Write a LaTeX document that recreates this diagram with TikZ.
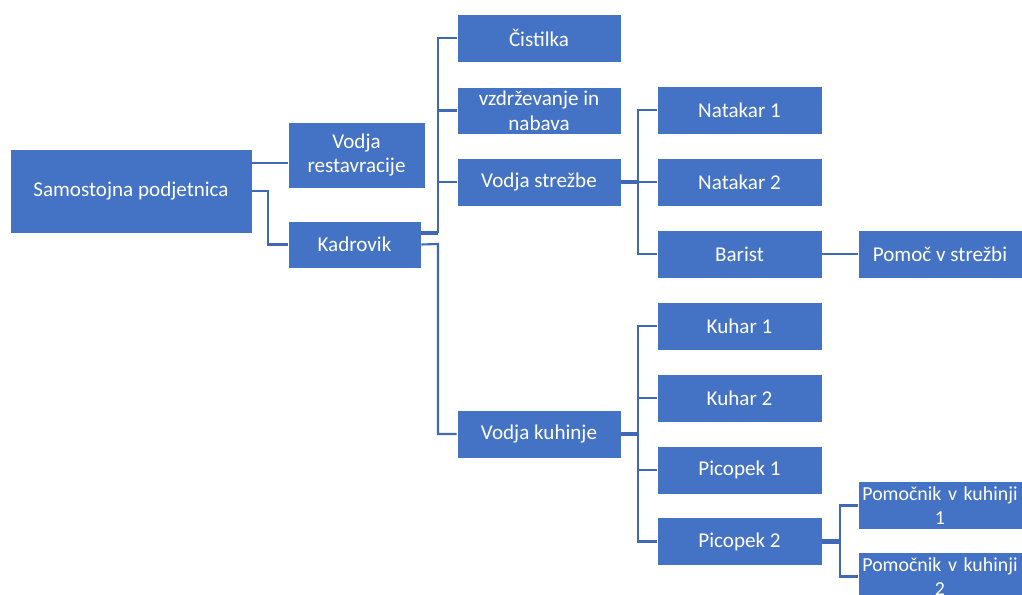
\documentclass[tikz,border=0pt]{standalone}
\usepackage{fontspec}
\setmainfont{Carlito}
\usepackage{tikz}
\definecolor{boxblue}{HTML}{4472C4}
\definecolor{linkblue}{HTML}{3F68B6}

\begin{document}
\begin{tikzpicture}[thin,
    unit/.style={rectangle, fill=boxblue, draw=white, line width=0.5pt, text=white,
        font=\fontsize{12}{14}\selectfont, align=center, inner sep=1.5pt,
        minimum width=3.28cm, minimum height=0.96cm},
    link/.style={draw=linkblue, line width=1.2pt},
    stub/.style={draw=linkblue, line width=2.6pt}]
    \useasboundingbox (0, 0) rectangle (20.44, -11.90);
    \node[unit, minimum width=4.84cm, minimum height=1.68cm] (00) at (2.62, -3.82) {Samostojna podjetnica};
    \node[unit, minimum width=2.74cm, minimum height=1.32cm] (10) at (7.13, -3.10) {Vodja\\restavracije};
    \node[unit, minimum width=2.66cm, minimum height=0.94cm] (11) at (7.09, -4.89) {Kadrovik};
    \node[unit] (20) at (10.78, -0.76) {Čistilka};
    \node[unit, minimum height=0.94cm] (21) at (10.78, -2.21) {vzdrževanje in\\nabava};
    \node[unit] (22) at (10.78, -3.64) {Vodja strežbe};
    \node[unit] (23) at (10.78, -8.68) {Vodja kuhinje};
    \node[unit, minimum width=3.30cm] (30) at (14.79, -2.20) {Natakar 1};
    \node[unit, minimum width=3.30cm] (31) at (14.79, -3.64) {Natakar 2};
    \node[unit, minimum width=3.30cm] (32) at (14.79, -5.08) {Barist};
    \node[unit, minimum width=3.30cm] (33) at (14.79, -6.52) {Kuhar 1};
    \node[unit, minimum width=3.30cm] (34) at (14.79, -7.96) {Kuhar 2};
    \node[unit, minimum width=3.30cm] (35) at (14.79, -9.40) {Picopek 1};
    \node[unit, minimum width=3.30cm] (36) at (14.79, -10.83) {Picopek 2};
    \node[unit] (40) at (18.80, -5.08) {Pomoč v strežbi};
    \node[unit, font=\fontsize{11.3}{14}\selectfont, text width=3.17cm, inner ysep=0pt] (41) at (18.80, -10.11) {\mbox{Pomočnik v kuhinji}\\1};
    \node[unit, font=\fontsize{11.3}{14}\selectfont, text width=3.17cm, inner ysep=0pt] (42) at (18.80, -11.53) {\mbox{Pomočnik v kuhinji}\\2};
    % top
    \draw[link] (00.east |- 0, -3.26) -- (10.west |- 0, -3.26);
    \draw[link] (00.east) -- (5.36, -3.82) |- (11.west);
    % Kadrovik
    \draw[stub] (11.east |- 0, -4.66) -- (8.76, -4.66);
    \foreach \n in {20, 21, 22}
        \draw[link] (8.76, -4.66) |- (\n.west);
    \draw[link] (11.east) -- (8.76, -4.88) |- (23.west);
    % strezba
    \draw[stub] (22.east) -- (12.76, -3.64);
    \foreach \n in {30, 31, 32}
        \draw[link] (12.76, -3.64) |- (\n.west);
    \draw[link] (32) -- (40);
    % kuhinja
    \draw[stub] (23.east) -- (12.76, -8.68);
    \foreach \n in {33, 34, 35, 36}
        \draw[link] (12.76, -8.68) |- (\n.west);
    \draw[stub] (36.east) -- (16.80, -10.83);
    \foreach \n in {41, 42}
        \draw[link] (16.80, -10.83) |- (\n.west);
\end{tikzpicture}
\end{document}
